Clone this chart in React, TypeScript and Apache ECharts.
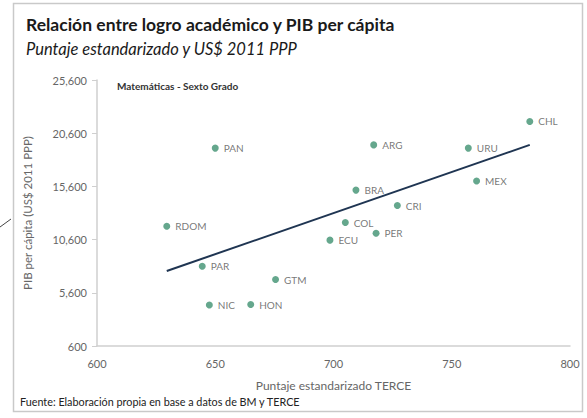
import React, { useEffect, useRef } from "react";
import * as echarts from "echarts";

const countries = ["CHL", "URU", "MEX", "ARG", "BRA", "CRI", "COL", "PER", "ECU", "PAN", "RDOM", "PAR", "GTM", "NIC", "HON"];
const scores = [783, 757, 760.5, 717, 709.5, 727, 705, 718, 698.5, 650, 629.5, 644.5, 675.5, 647.5, 665];
const gdp = [21700, 19200, 16100, 19500, 15250, 13800, 12200, 11200, 10550, 19200, 11850, 8100, 6850, 4450, 4500];
const trendX = [629.5, 783];
const trendY = [7650, 19500];
const yTicks = [600, 5600, 10600, 15600, 20600, 25600];
const xTicks = [600, 650, 700, 750, 800];

const FONT = "Lato, 'Open Sans', sans-serif";

export default function App() {
  const ref = useRef<HTMLDivElement>(null);
  useEffect(() => {
    if (!ref.current) return;
    const chart = echarts.init(ref.current, null, { renderer: "svg" });
    chart.setOption({
      animation: false,
      backgroundColor: "#ffffff",
      textStyle: { fontFamily: FONT },
      title: [
        {
          text: "Relación entre logro académico y PIB per cápita",
          left: 21,
          top: 10,
          textStyle: { fontSize: 17.5, fontWeight: "bold", color: "#1a1a1a", fontFamily: FONT },
        },
        {
          text: "Puntaje estandarizado y US$ 2011 PPP",
          left: 21,
          top: 35,
          textStyle: { fontSize: 16.5, fontStyle: "italic", fontWeight: "normal", color: "#1a1a1a", fontFamily: FONT },
        },
      ],
      graphic: [
        {
          type: "rect",
          shape: { x: 13.5, y: 3.5, width: 569, height: 408 },
          style: { fill: "none", stroke: "#c9c9c9", lineWidth: 1.5 },
        },
        {
          type: "line",
          shape: { x1: 0, y1: 227, x2: 11, y2: 219 },
          style: { stroke: "#444", lineWidth: 1 },
        },
        {
          type: "text",
          left: 117,
          top: 81,
          style: { text: "Matemáticas - Sexto Grado", fontSize: 10, fontWeight: "bold", fill: "#333", fontFamily: FONT },
        },
        {
          type: "text",
          left: 20,
          top: 396,
          style: { text: "Fuente: Elaboración propia en base a datos de BM y TERCE", fontSize: 10.8, fill: "#222", fontFamily: FONT },
        },
      ],
      grid: { left: 97, right: 17, top: 80, bottom: 72, containLabel: false },
      xAxis: {
        type: "value",
        min: 600,
        max: 800,
        interval: 50,
        name: "Puntaje estandarizado TERCE",
        nameLocation: "middle",
        nameGap: 33,
        nameTextStyle: { fontSize: 12, color: "#666", fontFamily: FONT },
        axisLine: { show: true, lineStyle: { color: "#cfcfcf", width: 1.5 } },
        axisTick: { show: false },
        splitLine: { show: false },
        axisLabel: {
          color: "#666",
          fontSize: 11,
          margin: 12,
          fontFamily: FONT,
          customValues: xTicks,
        },
      },
      yAxis: {
        type: "value",
        min: 600,
        max: 25600,
        name: "PIB per cápita (US$ 2011 PPP)",
        nameLocation: "middle",
        nameGap: 64,
        nameTextStyle: { fontSize: 11.5, color: "#666", fontFamily: FONT },
        axisLine: { show: true, lineStyle: { color: "#cfcfcf", width: 1.5 } },
        axisTick: { show: true, length: 5, lineStyle: { color: "#cfcfcf" }, customValues: yTicks },
        splitLine: { show: false },
        axisLabel: {
          color: "#666",
          fontSize: 11,
          margin: 10,
          fontFamily: FONT,
          customValues: yTicks,
          formatter: (v: number) => v.toLocaleString("en-US"),
        },
      },
      series: [
        {
          type: "line",
          data: trendX.map((x, i) => [x, trendY[i]]),
          showSymbol: false,
          symbol: "none",
          lineStyle: { color: "#1f3552", width: 2 },
          z: 1,
        },
        {
          type: "scatter",
          data: scores.map((x, i) => ({ value: [x, gdp[i]], name: countries[i] })),
          symbolSize: 7,
          itemStyle: { color: "#3f9170" },
          label: {
            show: true,
            position: "right",
            distance: 5,
            formatter: (p: any) => p.name,
            color: "#555",
            fontSize: 10,
            fontFamily: FONT,
          },
          z: 2,
        },
      ],
    });
    return () => chart.dispose();
  }, []);
  return (
    <div
      ref={ref}
      style={{ position: "absolute", left: 0, top: 0, width: 587, height: 418 }}
    />
  );
}
